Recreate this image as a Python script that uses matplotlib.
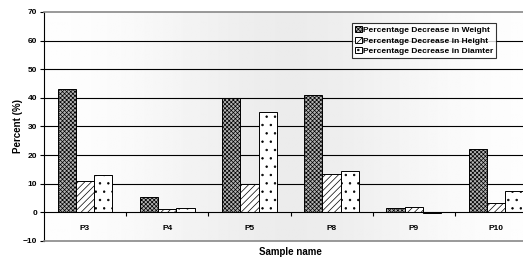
import numpy as np
import matplotlib.pyplot as plt

samples = ["P3", "P4", "P5", "P8", "P9", "P10"]
weight = [43, 5.2, 40, 41, 1.4, 22]
height = [11, 1.2, 10, 13.4, 1.9, 3.1]
diameter = [13, 1.5, 35, 14.6, -0.3, 7.3]
labels = ["Percentage Decrease in Weight", "Percentage Decrease in Height",
          "Percentage Decrease in Diamter"]

plt.rcParams["font.family"] = ["Liberation Sans", "DejaVu Sans"]
plt.rcParams["font.weight"] = "bold"
plt.rcParams["hatch.linewidth"] = 0.5

fig = plt.figure(figsize=(5.23, 2.58), dpi=100)
ax = fig.add_axes([0.084, 0.066, 0.943, 0.888])

x = np.arange(len(samples))
w = 1 / 4.5

# background gradient of the plot area
grad = np.exp(-((np.linspace(-1, 1, 300)) ** 2) / 0.35)
grad = 1 - 0.075 * grad
ax.imshow(np.tile(grad, (10, 1)), cmap="gray", vmin=0, vmax=1, aspect="auto",
          extent=(-0.5, 5.5, -10, 70), zorder=0)

for y in range(10, 70, 10):
    ax.axhline(y, color="black", lw=0.8, zorder=1)

ax.bar(x - w, weight, w, facecolor="#b4b4b4", edgecolor="black", hatch="xxxxxxxx",
       lw=0.7, zorder=3, label=labels[0])
ax.bar(x, height, w, facecolor="white", edgecolor="black", hatch="/////",
       lw=0.7, zorder=3, label=labels[1])
ax.bar(x + w, diameter, w, facecolor="white", edgecolor="black", hatch="..",
       lw=0.7, zorder=3, label=labels[2])

ax.axhline(0, color="black", lw=0.8, zorder=4)

ax.set_xlim(-0.5, 5.5)
ax.set_ylim(-10, 70)
ax.set_yticks(range(-10, 71, 10))
ax.set_xticks([])
ax.tick_params(axis="y", length=3, width=0.8, labelsize=6, pad=2)

# category axis sits on the zero line
sec = ax.secondary_xaxis(10 / 80)
sec.set_xticks(x)
sec.set_xticklabels(samples)
sec.tick_params(axis="x", which="major", length=0, pad=9, labelsize=6)
sec.set_xticks(np.arange(0.5, 5.5, 1), minor=True)
sec.tick_params(axis="x", which="minor", length=3, width=0.8, direction="out")
sec.spines["bottom"].set_visible(False)

for s in ["top", "bottom"]:
    ax.spines[s].set_color("#888888")
    ax.spines[s].set_linewidth(1.2)
ax.spines["right"].set_visible(False)
ax.spines["left"].set_linewidth(0.8)

ax.set_xlabel("Sample name", fontsize=7, fontweight="bold", labelpad=4)
ax.set_ylabel("Percent (%)", fontsize=7, fontweight="bold", labelpad=0)

leg = ax.legend(loc="upper left", bbox_to_anchor=(352 / 523, 1 - 23 / 258),
                bbox_transform=fig.transFigure, fontsize=6, frameon=True,
                fancybox=False, borderpad=0.35, labelspacing=0.3,
                handlelength=0.8, handleheight=0.8, handletextpad=0.2,
                borderaxespad=0)
leg.get_frame().set_edgecolor("black")
leg.get_frame().set_linewidth(0.8)
leg.set_zorder(6)

fig.savefig("out.png", dpi=100)
